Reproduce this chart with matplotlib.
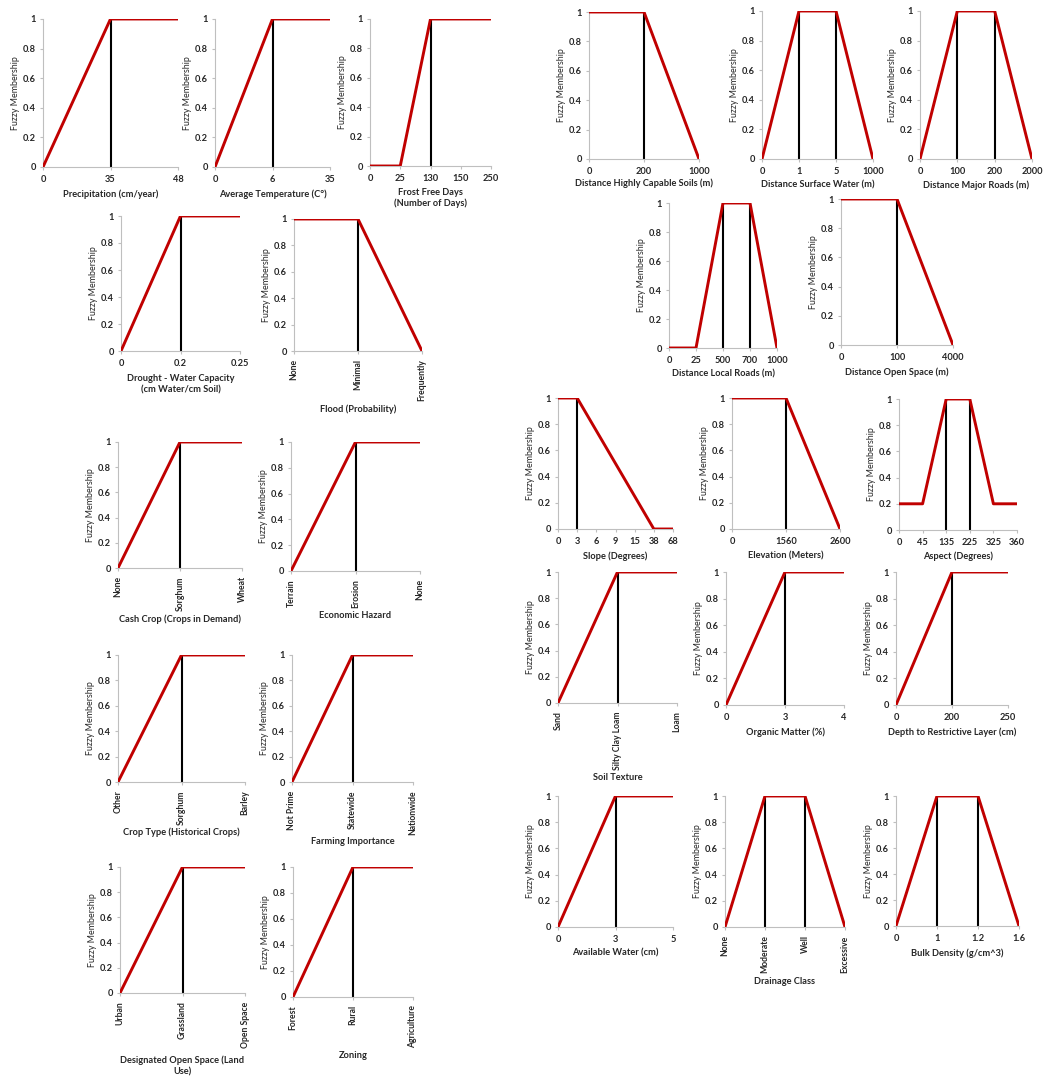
import matplotlib
matplotlib.use("Agg")
import matplotlib.pyplot as plt

plt.rcParams["font.family"] = ["Lato", "DejaVu Sans"]
plt.rcParams["font.weight"] = "bold"

W, H = 1049, 1078
RED = "#c00000"
AXIS = "#bfbfbf"
TEXT = "#262626"

# membership curves: category labels, red curve values, black marker positions
precip_cats = ["0", "35", "48"]
precip_vals = [0, 1, 1]
temp_cats = ["0", "6", "35"]
temp_vals = [0, 1, 1]
frost_cats = ["0", "25", "130", "150", "250"]
frost_vals = [0, 0, 1, 1, 1]
drought_cats = ["0", "0.2", "0.25"]
drought_vals = [0, 1, 1]
flood_cats = ["None", "Minimal", "Frequently"]
flood_vals = [1, 1, 0]
cash_cats = ["None", "Sorghum", "Wheat"]
cash_vals = [0, 1, 1]
hazard_cats = ["Terrain", "Erosion", "None"]
hazard_vals = [0, 1, 1]
crop_cats = ["Other", "Sorghum", "Barley"]
crop_vals = [0, 1, 1]
farm_cats = ["Not Prime", "Statewide", "Nationwide"]
farm_vals = [0, 1, 1]
openland_cats = ["Urban", "Grassland", "Open Space"]
openland_vals = [0, 1, 1]
zoning_cats = ["Forest", "Rural", "Agriculture"]
zoning_vals = [0, 1, 1]

soils_cats = ["0", "200", "1000"]
soils_vals = [1, 1, 0]
water_cats = ["0", "1", "5", "1000"]
water_vals = [0, 1, 1, 0]
major_cats = ["0", "100", "200", "2000"]
major_vals = [0, 1, 1, 0]
local_cats = ["0", "25", "500", "700", "1000"]
local_vals = [0, 0, 1, 1, 0]
openspace_cats = ["0", "100", "4000"]
openspace_vals = [1, 1, 0]
slope_cats = ["0", "3", "6", "9", "15", "38", "68"]
slope_vals = [1, 1, None, None, None, 0, 0]
elev_cats = ["0", "1560", "2600"]
elev_vals = [1, 1, 0]
aspect_cats = ["0", "45", "135", "225", "325", "360"]
aspect_vals = [0.2, 0.2, 1, 1, 0.2, 0.2]
texture_cats = ["Sand", "Silty Clay Loam", "Loam"]
texture_vals = [0, 1, 1]
organic_cats = ["0", "3", "4"]
organic_vals = [0, 1, 1]
depth_cats = ["0", "200", "250"]
depth_vals = [0, 1, 1]
avail_cats = ["0", "3", "5"]
avail_vals = [0, 1, 1]
drain_cats = ["None", "Moderate", "Well", "Excessive"]
drain_vals = [0, 1, 1, 0]
bulk_cats = ["0", "1", "1.2", "1.6"]
bulk_vals = [0, 1, 1, 0]

fig = plt.figure(figsize=(W / 100, H / 100), dpi=100)


def panel(box, cats, vals, marks, xlabel, label_y, rot=False):
    x0, y0, x1, y1 = box
    ax = fig.add_axes([x0 / W, 1 - y1 / H, (x1 - x0) / W, (y1 - y0) / H])
    # gaps (None) are bridged by a straight segment
    xs = [i for i, v in enumerate(vals) if v is not None]
    ys = [v for v in vals if v is not None]
    for m in marks:
        ax.plot([m, m], [0, 1], color="black", lw=1.5, zorder=2)
    ax.plot(xs, ys, color=RED, lw=2.1, zorder=3, solid_capstyle="butt")
    ax.set_xlim(0, len(cats) - 1)
    ax.set_ylim(0, 1)
    ax.set_xticks(range(len(cats)))
    ax.set_xticklabels(cats, rotation=90 if rot else 0,
                       fontsize=6.2 if rot else 6.7)
    ax.set_yticks([0, 0.2, 0.4, 0.6, 0.8, 1])
    ax.set_yticklabels(["0", "0.2", "0.4", "0.6", "0.8", "1"])
    for s in ["top", "right"]:
        ax.spines[s].set_visible(False)
    for s in ["left", "bottom"]:
        ax.spines[s].set_color(AXIS)
        ax.spines[s].set_linewidth(0.8)
    ax.tick_params(axis="y", length=2.5, width=0.8, color=AXIS,
                   labelsize=6.7, labelcolor=TEXT, pad=2.5)
    ax.tick_params(axis="x", length=2.5, width=0.8, color=AXIS,
                   labelcolor=TEXT, pad=3.5)
    ax.set_ylabel("Fuzzy Membership", fontsize=6.4, color=TEXT, labelpad=2)
    fig.text((x0 + x1) / 2 / W, 1 - label_y / H, xlabel, ha="center",
             va="center", fontsize=6.7, color=TEXT, linespacing=1.3)
    return ax


# left block
panel((43, 19, 178, 167), precip_cats, precip_vals, [1],
      "Precipitation (cm/year)", 194)
panel((215, 19, 330, 167), temp_cats, temp_vals, [1],
      "Average Temperature (C°)", 194)
panel((370, 19, 491, 166), frost_cats, frost_vals, [2],
      "Frost Free Days\n(Number of Days)", 198)
panel((121, 216, 240, 351), drought_cats, drought_vals, [1],
      "Drought - Water Capacity\n(cm Water/cm Soil)", 384)
panel((294, 219, 422, 351), flood_cats, flood_vals, [1],
      "Flood (Probability)", 409, rot=True)
panel((118, 442, 242, 568), cash_cats, cash_vals, [1],
      "Cash Crop (Crops in Demand)", 619, rot=True)
panel((291, 442, 420, 571), hazard_cats, hazard_vals, [1],
      "Economic Hazard", 615, rot=True)
panel((118, 655, 245, 782), crop_cats, crop_vals, [1],
      "Crop Type (Historical Crops)", 832, rot=True)
panel((292, 655, 413, 782), farm_cats, farm_vals, [1],
      "Farming Importance", 842, rot=True)
panel((120, 867, 245, 993), openland_cats, openland_vals, [1],
      "Designated Open Space (Land\nUse)", 1066, rot=True)
panel((293, 867, 413, 997), zoning_cats, zoning_vals, [1],
      "Zoning", 1056, rot=True)

# right block
panel((589, 12, 699, 159), soils_cats, soils_vals, [1],
      "Distance Highly Capable Soils (m)", 183)
panel((762, 11, 873, 159), water_cats, water_vals, [1, 2],
      "Distance Surface Water (m)", 185)
panel((920, 11, 1032, 159), major_cats, major_vals, [1, 2],
      "Distance Major Roads (m)", 185)
panel((669, 203, 777, 348), local_cats, local_vals, [2, 3],
      "Distance Local Roads (m)", 374)
panel((841, 199, 953, 345), openspace_cats, openspace_vals, [1],
      "Distance Open Space (m)", 372)
panel((558, 398, 673, 529), slope_cats, slope_vals, [1],
      "Slope (Degrees)", 556)
panel((732, 398, 840, 529), elev_cats, elev_vals, [1],
      "Elevation (Meters)", 556)
panel((899, 399, 1017, 530), aspect_cats, aspect_vals, [2, 3],
      "Aspect (Degrees)", 556)
panel((558, 572, 677, 703), texture_cats, texture_vals, [1],
      "Soil Texture", 778, rot=True)
panel((726, 572, 844, 705), organic_cats, organic_vals, [1],
      "Organic Matter (%)", 732)
panel((896, 572, 1008, 705), depth_cats, depth_vals, [1],
      "Depth to Restrictive Layer (cm)", 732)
panel((558, 796, 673, 927), avail_cats, avail_vals, [1],
      "Available Water (cm)", 953)
panel((725, 796, 845, 927), drain_cats, drain_vals, [1, 2],
      "Drainage Class", 982, rot=True)
panel((896, 796, 1019, 926), bulk_cats, bulk_vals, [1, 2],
      "Bulk Density (g/cm^3)", 953)

fig.savefig("out.png", dpi=100, facecolor="white")
